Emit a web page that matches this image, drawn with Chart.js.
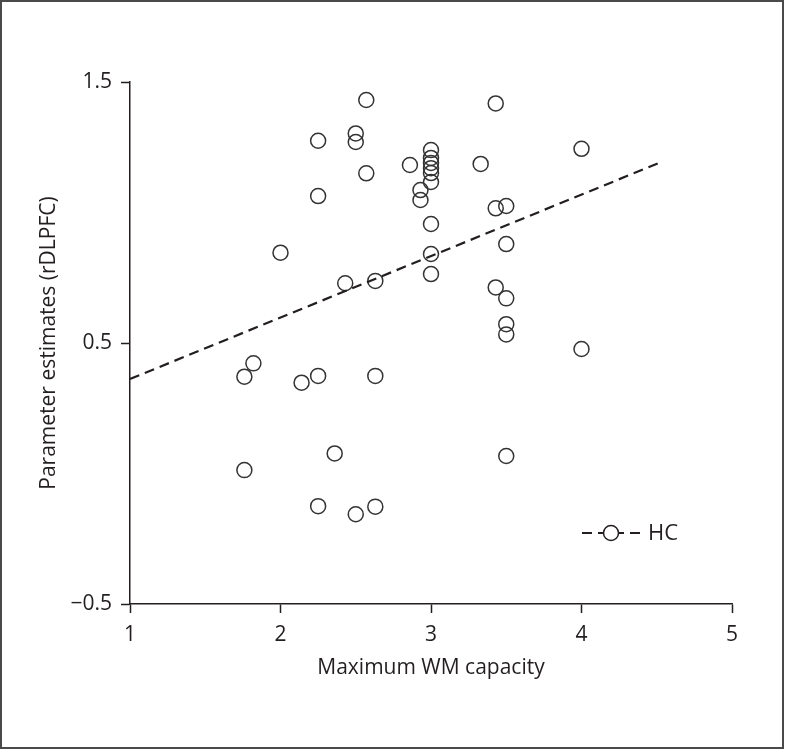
<!DOCTYPE html>
<html>
<head>
<meta charset="utf-8">
<script src="https://cdn.jsdelivr.net/npm/chart.js@4/dist/chart.umd.min.js"></script>
<style>
    body { margin: 0; background: #fff; }
    #wrap { position: relative; width: 786px; height: 750px; }
    #frame { position: absolute; left: 0; top: 0; width: 784px; height: 749px; box-sizing: border-box; border: 2px solid #4a4a4a; pointer-events: none; }
</style>
</head>
<body>
<div id="wrap">
    <canvas id="chart" width="786" height="750"></canvas>
    <div id="frame"></div>
</div>
<script>
// HC subjects: max WM capacity vs rDLPFC parameter estimates
const wmCapacity = [2.57, 3.43, 2.5, 2.5, 2.25, 4.0, 3.0, 3.0, 3.0, 3.0, 3.0, 3.0, 2.86, 3.33, 2.57,
    2.93, 2.93, 2.25, 3.43, 3.5, 3.0, 3.5, 2.0, 3.0, 3.0, 2.43, 2.63, 3.43, 3.5, 3.5, 3.5, 4.0,
    1.82, 1.76, 2.14, 2.25, 2.63, 2.36, 1.76, 3.5, 2.25, 2.5, 2.63];
const rdlpfc = [1.431, 1.418, 1.303, 1.270, 1.275, 1.244, 1.239, 1.209, 1.190, 1.170, 1.151, 1.117, 1.182, 1.186, 1.150,
    1.086, 1.048, 1.063, 1.016, 1.025, 0.956, 0.879, 0.846, 0.841, 0.764, 0.729, 0.738, 0.713, 0.671, 0.572, 0.533, 0.477,
    0.422, 0.371, 0.348, 0.374, 0.374, 0.077, 0.013, 0.067, -0.125, -0.156, -0.127];

// regression line end points
const fitX = [1, 4.52];
const fitY = [0.362, 1.191];

const xTicks = [1, 2, 3, 4, 5];
const yTicks = [-0.5, 0.5, 1.5];
const legendLabel = 'HC';

const ink = '#231f20';
const font = 'Open Sans';
const fontSize = 21;
const dash = [10, 6];

const points = wmCapacity.map((x, i) => ({ x, y: rdlpfc[i] }));
const fitLine = fitX.map((x, i) => ({ x, y: fitY[i] }));

const legendPlugin = {
    id: 'hcLegend',
    afterDatasetsDraw(chart) {
        const ctx = chart.ctx;
        const x0 = 582, x1 = 640, y = 533;
        ctx.save();
        ctx.strokeStyle = ink;
        ctx.lineWidth = 2.2;
        ctx.setLineDash(dash);
        ctx.beginPath();
        ctx.moveTo(x0, y);
        ctx.lineTo(x1, y);
        ctx.stroke();
        ctx.setLineDash([]);
        ctx.fillStyle = '#fff';
        ctx.lineWidth = 1.5;
        ctx.beginPath();
        ctx.arc(611, y, 7.5, 0, Math.PI * 2);
        ctx.fill();
        ctx.stroke();
        ctx.fillStyle = ink;
        ctx.font = `22px "${font}"`;
        ctx.textBaseline = 'middle';
        ctx.fillText(legendLabel, 648, y + 1);
        ctx.restore();
    }
};

const fmt = v => (v < 0 ? '\u2212' : '') + Math.abs(v).toFixed(1);

new Chart(document.getElementById('chart'), {
    type: 'scatter',
    data: {
        datasets: [
            {
                label: 'fit',
                type: 'line',
                data: fitLine,
                borderColor: ink,
                borderWidth: 2.2,
                borderDash: dash,
                pointRadius: 0,
                fill: false
            },
            {
                label: legendLabel,
                data: points,
                pointRadius: 7.5,
                pointBorderWidth: 1.5,
                pointBorderColor: '#333',
                pointBackgroundColor: 'rgba(255,255,255,0)'
            }
        ]
    },
    options: {
        responsive: false,
        animation: false,
        layout: { padding: { top: 82, right: 54, left: 0, bottom: 0 } },
        plugins: { legend: { display: false }, tooltip: { enabled: false } },
        scales: {
            x: {
                type: 'linear',
                min: 1, max: 5,
                afterBuildTicks: s => { s.ticks = xTicks.map(v => ({ value: v })); },
                afterFit: s => { s.height = 146; },
                border: { color: ink, width: 1.5 },
                grid: { drawOnChartArea: false, tickLength: 9, tickColor: ink, tickWidth: 1.5 },
                ticks: { color: ink, font: { family: font, size: fontSize }, padding: 9, callback: v => String(v) },
                title: { display: true, text: 'Maximum WM capacity', color: ink, font: { family: font, size: fontSize }, padding: { bottom: 69 } }
            },
            y: {
                type: 'linear',
                min: -0.5, max: 1.5,
                afterBuildTicks: s => { s.ticks = yTicks.map(v => ({ value: v })); },
                afterFit: s => { s.width = 130; },
                border: { color: ink, width: 1.5 },
                grid: { drawOnChartArea: false, tickLength: 9, tickColor: ink, tickWidth: 1.5 },
                ticks: { color: ink, font: { family: font, size: fontSize }, padding: 9, callback: v => fmt(v) },
                title: { display: true, text: 'Parameter estimates (rDLPFC)', color: ink, font: { family: font, size: fontSize }, padding: { top: 36 } }
            }
        }
    },
    plugins: [legendPlugin]
});
</script>
</body>
</html>
